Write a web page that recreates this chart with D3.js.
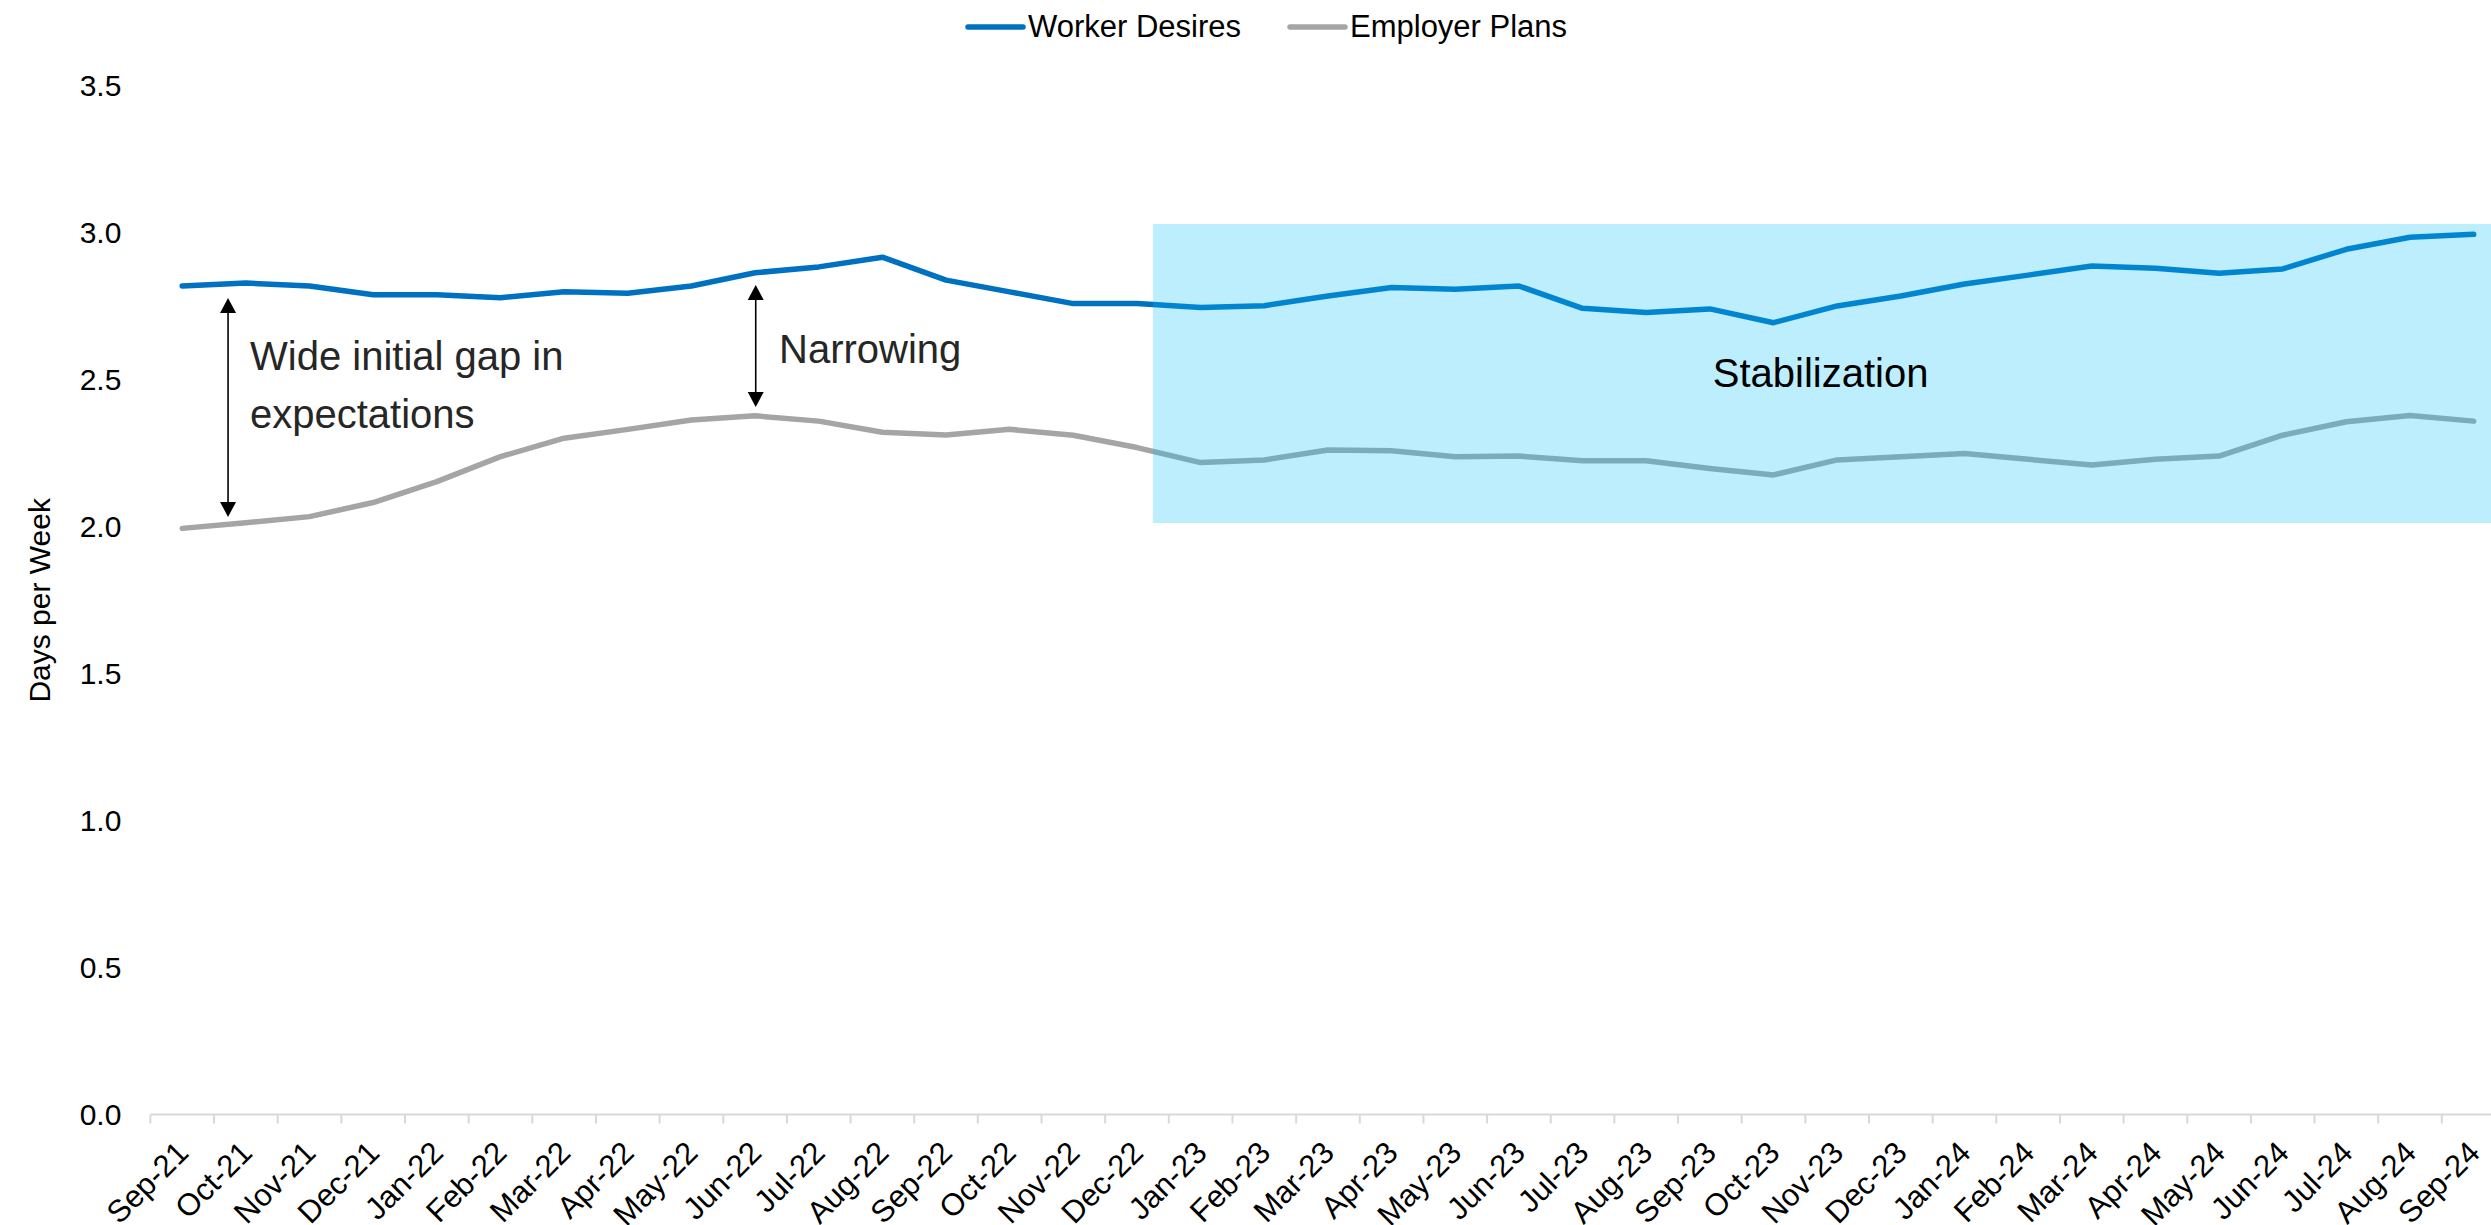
<!DOCTYPE html>
<html>
<head>
<meta charset="utf-8">
<script src="https://cdn.jsdelivr.net/npm/d3@7"></script>
<style>
  html, body { margin: 0; padding: 0; background: #fff; }
  svg { display: block; }
  text { font-family: "Liberation Sans", Arial, sans-serif; }
</style>
</head>
<body>
<svg id="chart" width="2491" height="1225"></svg>
<script>
const months = ["Sep-21","Oct-21","Nov-21","Dec-21","Jan-22","Feb-22","Mar-22","Apr-22","May-22","Jun-22","Jul-22","Aug-22",
  "Sep-22","Oct-22","Nov-22","Dec-22","Jan-23","Feb-23","Mar-23","Apr-23","May-23","Jun-23","Jul-23","Aug-23",
  "Sep-23","Oct-23","Nov-23","Dec-23","Jan-24","Feb-24","Mar-24","Apr-24","May-24","Jun-24","Jul-24","Aug-24","Sep-24"];
const workerDesires = [2.82,2.83,2.82,2.79,2.79,2.78,2.80,2.795,2.82,2.865,2.885,2.918,
  2.84,2.80,2.76,2.76,2.747,2.753,2.786,2.815,2.809,2.82,2.744,2.73,
  2.742,2.695,2.752,2.786,2.827,2.857,2.888,2.88,2.863,2.878,2.945,2.986,2.996];
const employerPlans = [1.995,2.014,2.035,2.083,2.154,2.239,2.302,2.332,2.364,2.378,2.36,2.322,
  2.313,2.332,2.312,2.27,2.219,2.228,2.262,2.259,2.239,2.241,2.225,2.225,
  2.199,2.177,2.228,2.239,2.25,2.23,2.211,2.23,2.241,2.312,2.358,2.379,2.36];
const yTicks = [0,0.5,1.0,1.5,2.0,2.5,3.0,3.5];
const seriesNames = ["Worker Desires","Employer Plans"];
const seriesColors = ["#0070C0","#A5A5A5"];

const svg = d3.select("#chart");
const left = 150.4, right = 2505.5, y0px = 1114.5, y35px = 86.2;

const x = d3.scaleBand().domain(months).range([left, right]).padding(0);
const xc = d => x(d) + x.bandwidth() / 2;
const xi = d3.scaleLinear().domain([0, months.length - 1]).range([xc(months[0]), xc(months[months.length - 1])]);
const y = d3.scaleLinear().domain([0, 3.5]).range([y0px, y35px]);

// Y axis (labels only)
const yAxis = svg.append("g").attr("transform", `translate(${left},0)`)
  .call(d3.axisLeft(y).tickValues(yTicks).tickFormat(d3.format(".1f")).tickSize(0).tickPadding(29));
yAxis.select(".domain").remove();
yAxis.selectAll("text").attr("font-size", 30).attr("fill", "#000")
  .attr("font-family", "Liberation Sans, Arial, sans-serif");

// Y title
svg.append("text").attr("transform", `translate(50,${(y0px + y35px) / 2}) rotate(-90)`)
  .attr("text-anchor", "middle").attr("font-size", 30).attr("fill", "#000").text("Days per Week");

// X axis
const xAxis = svg.append("g");
xAxis.append("line").attr("x1", left).attr("x2", right).attr("y1", y0px).attr("y2", y0px)
  .attr("stroke", "#D9D9D9").attr("stroke-width", 2);
xAxis.selectAll("line.tick").data(months).join("line").attr("class", "tick")
  .attr("x1", d => x(d)).attr("x2", d => x(d)).attr("y1", y0px).attr("y2", y0px + 9)
  .attr("stroke", "#D9D9D9").attr("stroke-width", 2);
xAxis.selectAll("text").data(months).join("text")
  .attr("transform", d => `translate(${xc(d) + 8},${y0px + 40}) rotate(-45)`)
  .attr("text-anchor", "end").attr("font-size", 31).attr("fill", "#000").text(d => d);

// Lines
const line = d3.line().x((d, i) => xc(months[i])).y(d => y(d));
[workerDesires, employerPlans].forEach((s, k) => {
  svg.append("path").datum(s).attr("d", line).attr("fill", "none")
    .attr("stroke", seriesColors[k]).attr("stroke-width", 5.5)
    .attr("stroke-linejoin", "round").attr("stroke-linecap", "round");
});

// Shaded stabilization region (drawn over lines, semi-transparent)
const shade = { i0: 15.25, i1: 37, top: 3.031, bottom: 2.013 };
svg.append("rect").attr("x", xi(shade.i0)).attr("width", xi(shade.i1) - xi(shade.i0))
  .attr("y", y(shade.top)).attr("height", y(shade.bottom) - y(shade.top))
  .attr("fill", "rgb(8,194,253)").attr("fill-opacity", 0.27);

// Arrows
function dblArrow(ix, vTop, vBot) {
  const ax = xi(ix), t = y(vTop), b = y(vBot), hw = 8, hl = 15;
  svg.append("line").attr("x1", ax).attr("x2", ax).attr("y1", t + hl - 1).attr("y2", b - hl + 1)
    .attr("stroke", "#000").attr("stroke-width", 1.6);
  svg.append("path").attr("d", `M${ax},${t} L${ax - hw},${t + hl} L${ax + hw},${t + hl} Z`).attr("fill", "#000");
  svg.append("path").attr("d", `M${ax},${b} L${ax - hw},${b - hl} L${ax + hw},${b - hl} Z`).attr("fill", "#000");
}
dblArrow(0.72, 2.779, 2.034);
dblArrow(9.01, 2.823, 2.408);

// Annotation texts
const annoColor = "#262626";
svg.append("text").attr("x", xi(1.065)).attr("y", y(2.534)).attr("font-size", 40).attr("fill", annoColor).text("Wide initial gap in");
svg.append("text").attr("x", xi(1.065)).attr("y", y(2.337)).attr("font-size", 40).attr("fill", annoColor).text("expectations");
svg.append("text").attr("x", xi(9.376)).attr("y", y(2.558)).attr("font-size", 40).attr("fill", annoColor).text("Narrowing");
svg.append("text").attr("x", xi(25.74)).attr("y", y(2.476)).attr("text-anchor", "middle").attr("font-size", 40).attr("fill", "#000").text("Stabilization");

// Legend
const legendItems = [{ x: 968 }, { x: 1290 }];
legendItems.forEach((l, k) => {
  svg.append("line").attr("x1", l.x).attr("x2", l.x + 55).attr("y1", 27).attr("y2", 27)
    .attr("stroke", seriesColors[k]).attr("stroke-width", 5.5).attr("stroke-linecap", "round");
  svg.append("text").attr("x", l.x + 60).attr("y", 37).attr("font-size", 31).attr("fill", "#000").text(seriesNames[k]);
});
</script>
</body>
</html>
